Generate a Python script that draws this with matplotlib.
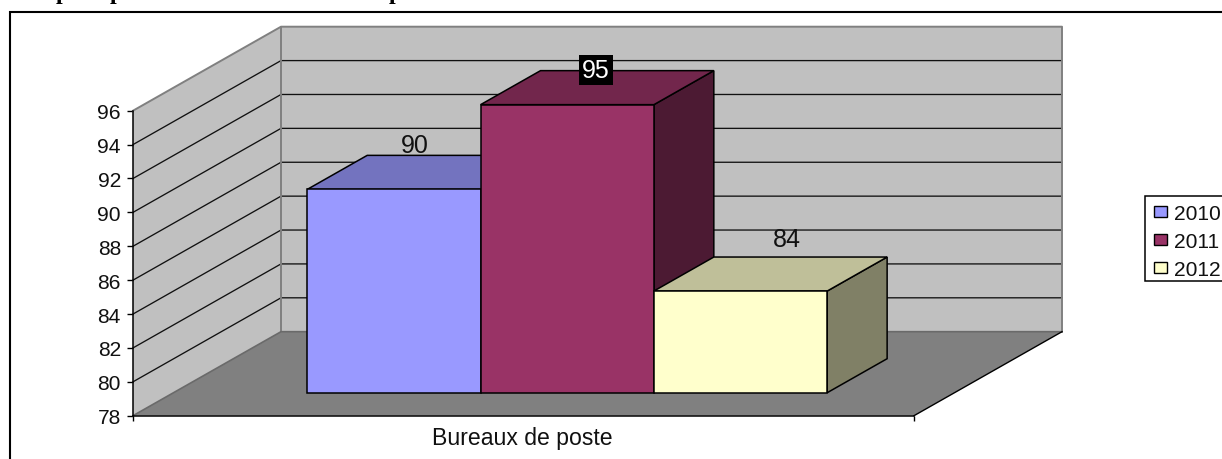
import matplotlib
matplotlib.use("Agg")
import matplotlib.pyplot as plt
from matplotlib.patches import Polygon, Patch, Rectangle

W, H = 1222, 460
plt.rcParams['font.family'] = ['Liberation Sans', 'DejaVu Sans']

years = ['2010', '2011', '2012']
values = [90, 95, 84]
category = 'Bureaux de poste'
y_ticks = list(range(78, 98, 2))
front = ['#9999FF', '#993366', '#FFFFCC']
top = ['#7373BF', '#72264C', '#BFBF99']
side = ['#4C4C80', '#4C1A33', '#808066']

# 3D oblique projection, in data units
VMIN, VMAX = 78, 96
DX = 148 / 781      # x shift for full depth
DV = 84 / (305 / 18)  # value shift for full depth
D0, D1 = 23 / 84, 57 / 84
X0 = 0.1713
BW = 0.2219
LABEL_OFFSET = [(20.4, 44), (28.5, 34.5), (46, 52)]  # px from the bar's front top centre

fig = plt.figure(figsize=(W / 100, H / 100), dpi=100, facecolor='white')
px = lambda v: v * 0.72


def P(x, v, d=0.0):
    return (x + d * DX, v + d * DV)


ax = fig.add_axes([133 / W, 1 - 416.7 / H, 781 / W, 305 / H], facecolor='none')
ax.set_xlim(0, 1)
ax.set_ylim(VMIN, VMAX)

EDGE = '#808080'
# figure frame
fig.add_artist(Rectangle((9.5 / W, -0.05), 1.1, 1 - 12.5 / H + 0.05, transform=fig.transFigure,
                         fc='none', ec='black', lw=1.5))

clip = dict(clip_on=False)
# walls and floor
ax.add_patch(Polygon([P(0, VMIN), P(0, VMAX), P(0, VMAX, 1), P(0, VMIN, 1)], fc='#C0C0C0', ec='none', zorder=1, **clip))
ax.add_patch(Polygon([P(0, VMIN, 1), P(0, VMAX, 1), P(1, VMAX, 1), P(1, VMIN, 1)], fc='#C0C0C0', ec='none', zorder=1, **clip))
ax.add_patch(Polygon([P(0, VMIN), P(1, VMIN), P(1, VMIN, 1), P(0, VMIN, 1)], fc='#808080', ec='none', zorder=1, **clip))

# gridlines
for v in y_ticks[1:-1]:
    a, b, c = P(0, v), P(0, v, 1), P(1, v, 1)
    ax.plot([a[0], b[0], c[0]], [a[1], b[1], c[1]], color='#111111', lw=0.95, zorder=2, solid_joinstyle='miter', **clip)

# wall edges
a, b, c, d = P(0, VMAX), P(0, VMAX, 1), P(1, VMAX, 1), P(1, VMIN, 1)
ax.plot([a[0], b[0], c[0], d[0]], [a[1], b[1], c[1], d[1]], color=EDGE, lw=1.4, zorder=3, **clip)
a, b = P(0, VMIN, 1), P(0, VMAX, 1)
ax.plot([a[0], b[0]], [a[1], b[1]], color=EDGE, lw=1.4, zorder=3, **clip)
a, b, c = P(0, VMIN), P(0, VMIN, 1), P(1, VMIN, 1)
ax.plot([a[0], b[0], c[0]], [a[1], b[1], c[1]], color='#6a6a6a', lw=1.2, zorder=3, **clip)
a, b = P(1, VMIN), P(1, VMIN, 1)
ax.plot([a[0], b[0]], [a[1], b[1]], color='black', lw=1.0, zorder=3, **clip)

# bars
for i, v in enumerate(values):
    xl = X0 + i * BW
    xr = xl + BW
    z = 4 + i * 0.1
    ec = dict(ec='black', lw=1.1, joinstyle='miter', zorder=z, **clip)
    ax.add_patch(Polygon([P(xr, VMIN, D0), P(xr, VMIN, D1), P(xr, v, D1), P(xr, v, D0)], fc=side[i], **ec))
    ax.add_patch(Polygon([P(xl, v, D0), P(xr, v, D0), P(xr, v, D1), P(xl, v, D1)], fc=top[i], **ec))
    ax.add_patch(Polygon([P(xl, VMIN, D0), P(xr, VMIN, D0), P(xr, v, D0), P(xl, v, D0)], fc=front[i], **ec))

# data labels
FS = px(21)
for i, v in enumerate(values):
    anchor = P(X0 + (i + 0.5) * BW, v, D0)
    off = (px(LABEL_OFFSET[i][0]), px(LABEL_OFFSET[i][1]))
    kw = dict(xy=anchor, xycoords='data', xytext=off, textcoords='offset points',
              ha='center', va='center', fontsize=px(25), zorder=8, annotation_clip=False)
    if i == 1:
        ax.annotate(str(v), color='white',
                    bbox=dict(fc='black', ec='none', boxstyle='square,pad=0.12'), **kw)
    else:
        ax.annotate(str(v), color='#111111', **kw)

# axes
for s in ['top', 'right']:
    ax.spines[s].set_visible(False)
for s in ['left', 'bottom']:
    ax.spines[s].set_linewidth(1.1)
    ax.spines[s].set_zorder(6)
ax.set_yticks(y_ticks)
ax.set_yticklabels([str(t) for t in y_ticks], fontsize=FS, color='#111111')
ax.set_xticks([0, 1])
ax.set_xticklabels(['', ''])
ax.set_xticks([0.498], minor=True)
ax.set_xticklabels([category], minor=True, fontsize=px(23), color='#111111')
ax.tick_params(axis='y', length=px(6), width=1.0, pad=px(6))
ax.tick_params(axis='x', which='major', length=px(5), width=1.0)
ax.tick_params(axis='x', which='minor', length=0, pad=px(10))

# legend
fig.add_artist(Rectangle((1145 / W, 1 - 282 / H), 0.2, 85 / H, transform=fig.transFigure,
                         fc='white', ec='black', lw=1.1))
handles = [Patch(fc=c, ec='black', lw=1.0, label=y) for c, y in zip(front, years)]
leg = fig.legend(handles=handles, loc='upper left',
                 bbox_to_anchor=(1154 / W, 1 - 205 / H), bbox_transform=fig.transFigure,
                 fontsize=FS, frameon=False,
                 handlelength=0.62, handleheight=0.48, handletextpad=0.33, labelspacing=0.43,
                 borderpad=0, borderaxespad=0, labelcolor='#111111')

# clipped title fragments at the top edge
for x in [55.5, 109.5, 388.5]:
    fig.text(x / W, 1 + 1 / H, 'p', family='Liberation Serif', weight='bold', fontsize=px(24),
             va='baseline', ha='left', color='black')

fig.savefig('out.png', dpi=100)
